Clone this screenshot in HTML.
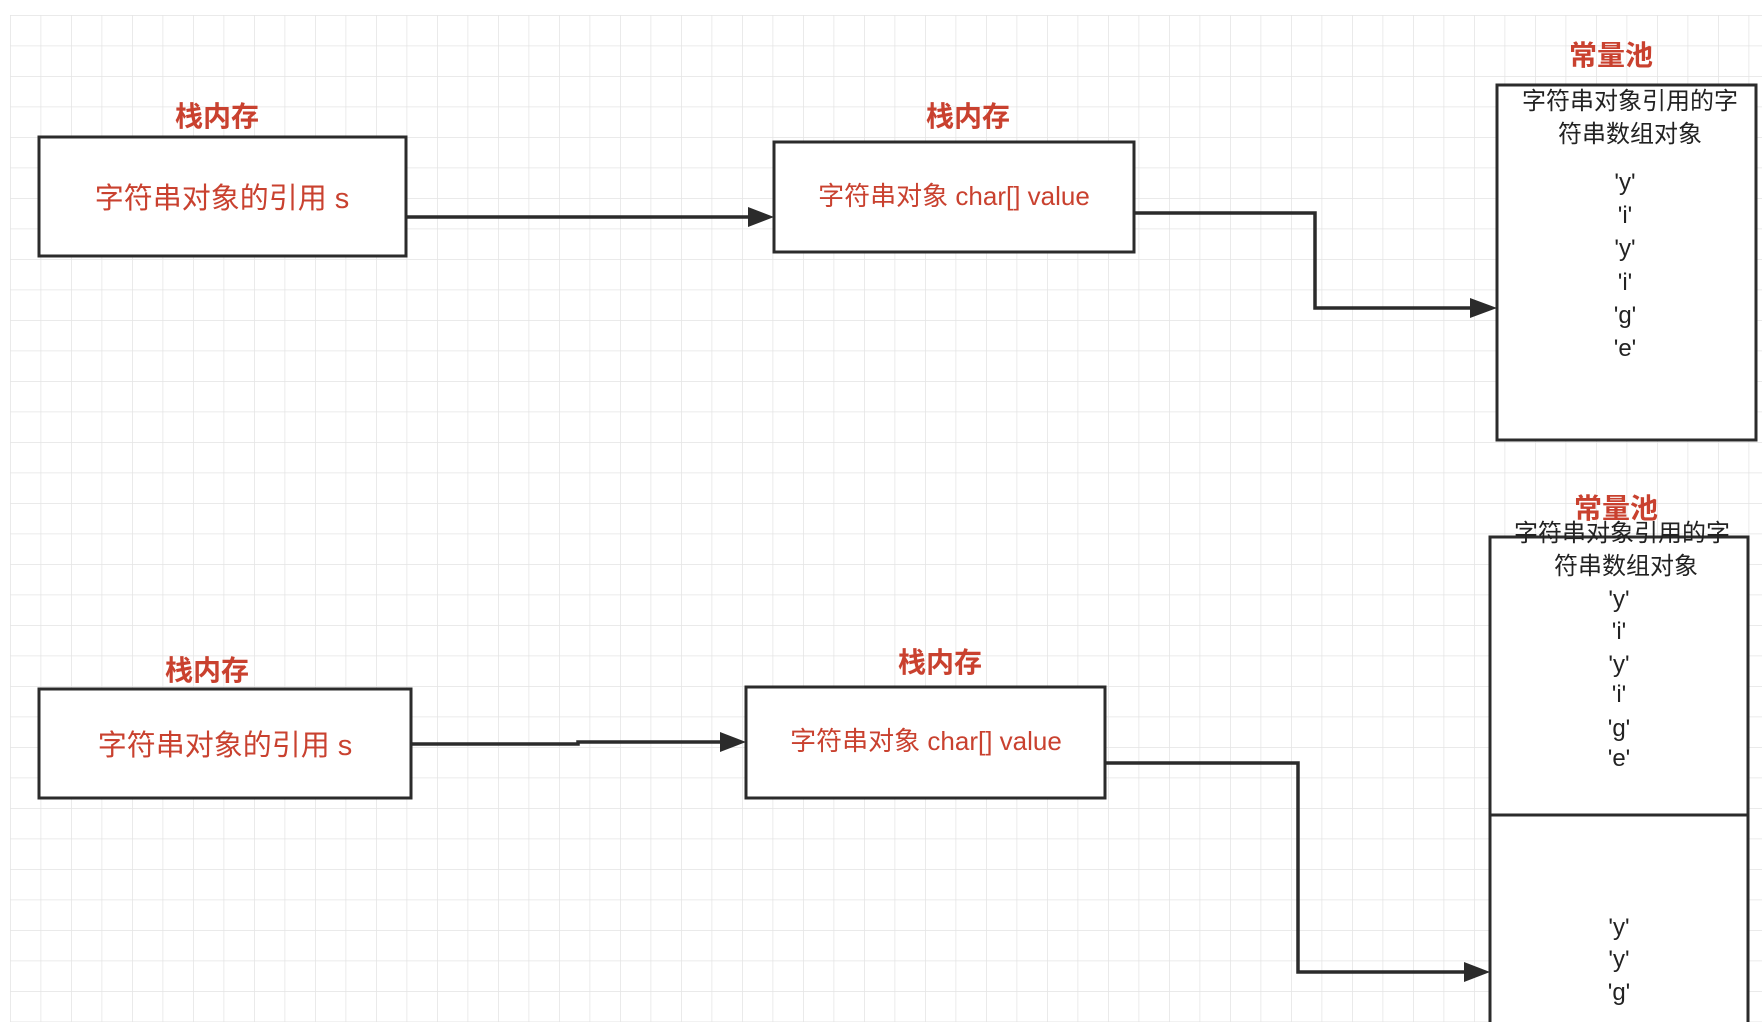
<!DOCTYPE html>
<html><head><meta charset="utf-8"><style>
html,body{margin:0;padding:0;background:#fff;}
body{width:1762px;height:1022px;overflow:hidden;}
svg{display:block;}
.r{fill:#c9412f;font-family:"Liberation Sans","Noto Sans CJK SC",sans-serif;}
.k{fill:#222;font-family:"Liberation Sans","Noto Sans CJK SC",sans-serif;}
</style></head><body>
<svg width="1762" height="1022" xmlns="http://www.w3.org/2000/svg">
<defs>
<pattern id="g" x="10" y="15" width="30.5" height="30.5" patternUnits="userSpaceOnUse">
<path d="M0 0H30.5M0 0V30.5" stroke="#e4e4e4" stroke-width="1.5" fill="none"/>
</pattern>
<marker id="a" markerWidth="10" markerHeight="10" refX="9" refY="5" orient="auto" markerUnits="userSpaceOnUse" viewBox="0 0 10 10">
</marker>
</defs>
<rect x="10" y="15" width="1752" height="1007" fill="url(#g)"/>
<g fill="#fff" stroke="#2b2b2b" stroke-width="3">
<rect x="39" y="137" width="367" height="119"/>
<rect x="774" y="142" width="360" height="110"/>
<rect x="1497" y="85" width="259" height="355"/>
<rect x="39" y="689" width="372" height="109"/>
<rect x="746" y="687" width="359" height="111"/>
<rect x="1490" y="537" width="258" height="278"/>
<rect x="1490" y="815" width="258" height="220"/>
</g>
<g stroke="#2b2b2b" stroke-width="3.5" fill="none">
<path d="M406 217H750"/>
<path d="M1134 213H1315V308H1472"/>
<path d="M411 744H578V742H722"/>
<path d="M1105 763H1298V972H1466"/>
</g>
<g fill="#2b2b2b">
<polygon points="774,217 748,207 748,227"/>
<polygon points="1497,308 1470,298 1470,318"/>
<polygon points="746,742 720,732 720,752"/>
<polygon points="1490,972 1464,962 1464,982"/>
</g>
<g class="r" font-weight="bold" font-size="28" text-anchor="middle">
<text x="217" y="126">栈内存</text>
<text x="968" y="126">栈内存</text>
<text x="1611" y="65">常量池</text>
<text x="207" y="680">栈内存</text>
<text x="940" y="672">栈内存</text>
<text x="1616" y="518">常量池</text>
</g>
<g class="r" font-size="29" text-anchor="middle">
<text x="222" y="208">字符串对象的引用 s</text>
<text x="225" y="755">字符串对象的引用 s</text>
</g>
<g class="r" font-size="26" text-anchor="middle">
<text x="954" y="205">字符串对象 char[] value</text>
<text x="926" y="750">字符串对象 char[] value</text>
</g>
<g class="k" font-size="24" text-anchor="middle">
<text x="1630" y="109">字符串对象引用的字</text>
<text x="1630" y="142">符串数组对象</text>
<text x="1625" y="190">'y'</text>
<text x="1625" y="223">'i'</text>
<text x="1625" y="256">'y'</text>
<text x="1625" y="290">'i'</text>
<text x="1625" y="323">'g'</text>
<text x="1625" y="356">'e'</text>
<text x="1622" y="541">字符串对象引用的字</text>
<text x="1626" y="574">符串数组对象</text>
<text x="1619" y="607">'y'</text>
<text x="1619" y="639">'i'</text>
<text x="1619" y="672">'y'</text>
<text x="1619" y="702">'i'</text>
<text x="1619" y="736">'g'</text>
<text x="1619" y="766">'e'</text>
<text x="1619" y="935">'y'</text>
<text x="1619" y="967">'y'</text>
<text x="1619" y="1000">'g'</text>
</g>
</svg>
</body></html>
